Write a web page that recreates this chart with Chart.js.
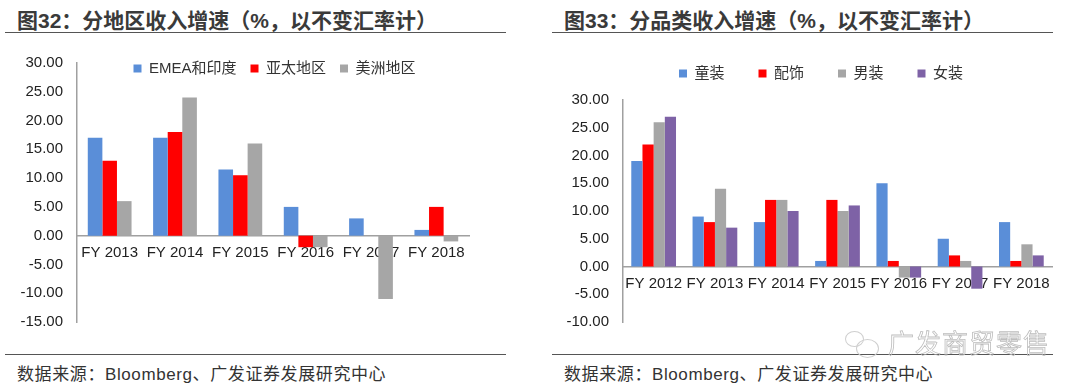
<!DOCTYPE html>
<html>
<head>
<meta charset="utf-8">
<script src="https://cdn.jsdelivr.net/npm/chart.js@4"></script>
<style>
  body { margin: 0; background: #fff; width: 1080px; height: 390px; overflow: hidden; position: relative;
         font-family: "Liberation Sans", "Noto Sans CJK SC", sans-serif; color: #333; }
  .title { position: absolute; top: 4px; font-size: 21px; font-weight: bold; color: #3a3a3a; white-space: nowrap; }
  .rule { position: absolute; height: 0; border-top: 1.5px solid #555; }
  .src { position: absolute; top: 360px; font-size: 17px; letter-spacing: 0.6px; color: #333; white-space: nowrap; }
  .box { position: absolute; }
  .wm { position: absolute; left: 888px; top: 323px; font-size: 26px; color: transparent;
        -webkit-text-stroke: 0.8px #bdbdbd; font-family: "Noto Sans CJK SC", sans-serif; letter-spacing: 1px; }
  .bub { position: absolute; border: 1.5px solid #cfcfcf; border-radius: 50%; }
</style>
</head>
<body>
<div class="title" style="left:17px">图32：分地区收入增速（%，以不变汇率计）</div>
<div class="rule" style="left:5px; width:501px; top:32px"></div>
<div class="title" style="left:564px">图33：分品类收入增速（%，以不变汇率计）</div>
<div class="rule" style="left:552px; width:501px; top:32px"></div>

<div class="box" style="left:0; top:24px; width:520px; height:321px"><canvas id="c1"></canvas></div>
<div class="box" style="left:540px; top:39px; width:540px; height:306px"><canvas id="c2"></canvas></div>

<div class="rule" style="left:5px; width:501px; top:354px"></div>
<div class="rule" style="left:552px; width:501px; top:354px"></div>
<div class="src" style="left:17px">数据来源：Bloomberg、广发证券发展研究中心</div>
<div class="src" style="left:564px">数据来源：Bloomberg、广发证券发展研究中心</div>

<div class="bub" style="left:845px; top:331px; width:17px; height:14px"></div>
<div class="bub" style="left:856px; top:339px; width:21px; height:17px"></div>
<div class="wm">广发商贸零售</div>

<script>
// 图32 分地区
const regionYears = ["FY 2013", "FY 2014", "FY 2015", "FY 2016", "FY 2017", "FY 2018"];
const emeaIndia = [17, 17, 11.5, 5, 3, 1];
const asiaPacific = [13, 18, 10.5, -2, 0, 5];
const americas = [6, 24, 16, -2, -11, -1];

// 图33 分品类
const categoryYears = ["FY 2012", "FY 2013", "FY 2014", "FY 2015", "FY 2016", "FY 2017", "FY 2018"];
const kidswear = [19, 9, 8, 1, 15, 5, 8];
const accessories = [22, 8, 12, 12, 1, 2, 1];
const menswear = [26, 14, 12, 10, -2, 1, 4];
const womenswear = [27, 7, 10, 11, -2, -4, 2];

const BLUE = "#5A8ED8", RED = "#FF0000", GRAY = "#A6A6A6", PURPLE = "#7E62A6";
const tickFont = { family: "Liberation Sans, Arial, sans-serif", size: 15 };
const legendFont = { family: "Liberation Sans, Noto Sans CJK SC, sans-serif", size: 15 };

// nudge the legend after layout (the Excel legend sits over the plot)
function legendShift(dx, dy) {
  return {
    id: "legendShift",
    afterUpdate(chart) {
      const l = chart.legend;
      if (!l) return;
      l.left += dx; l.right += dx; l.top += dy; l.bottom += dy;
      (l.legendHitBoxes || []).forEach(h => { h.left += dx; h.top += dy; });
    }
  };
}

function makeChart(id, labels, datasets, yMin, yMax, axisX, padRight, padTop, legendPad, catPct, dx, dy) {
  return new Chart(document.getElementById(id), {
    type: "bar",
    data: { labels: labels, datasets: datasets },
    plugins: [legendShift(dx, dy)],
    options: {
      responsive: true,
      maintainAspectRatio: false,
      animation: false,
      datasets: { bar: { categoryPercentage: catPct, barPercentage: 1 } },
      layout: { padding: { top: padTop, right: padRight, bottom: 0, left: 0 } },
      plugins: {
        tooltip: { enabled: false },
        legend: {
          position: "top",
          labels: { boxWidth: 8, boxHeight: 8, padding: legendPad, color: "#333", font: legendFont }
        }
      },
      scales: {
        x: {
          position: { y: 0 },
          grid: { display: false, drawTicks: false },
          border: { color: "#A0A0A0", width: 1.5 },
          ticks: { color: "#222", font: tickFont, padding: 8, maxRotation: 0, autoSkip: false }
        },
        y: {
          min: yMin, max: yMax,
          grid: { display: false, drawTicks: false },
          border: { color: "#A0A0A0", width: 1.5 },
          ticks: { stepSize: 5, color: "#222", font: tickFont, padding: 14,
                   callback: v => v.toFixed(2) },
          afterFit: s => { s.width = axisX; }
        }
      }
    }
  });
}

makeChart("c1", regionYears, [
  { label: "EMEA和印度", data: emeaIndia, backgroundColor: BLUE },
  { label: "亚太地区", data: asiaPacific, backgroundColor: RED },
  { label: "美洲地区", data: americas, backgroundColor: GRAY }
], -15, 30, 77, 51, 0, 14, 0.67, 40, 23);

makeChart("c2", categoryYears, [
  { label: "童装", data: kidswear, backgroundColor: BLUE },
  { label: "配饰", data: accessories, backgroundColor: RED },
  { label: "男装", data: menswear, backgroundColor: GRAY },
  { label: "女装", data: womenswear, backgroundColor: PURPLE }
], -10, 30, 83, 28, 2, 34, 0.73, 25, -9);
</script>
</body>
</html>
